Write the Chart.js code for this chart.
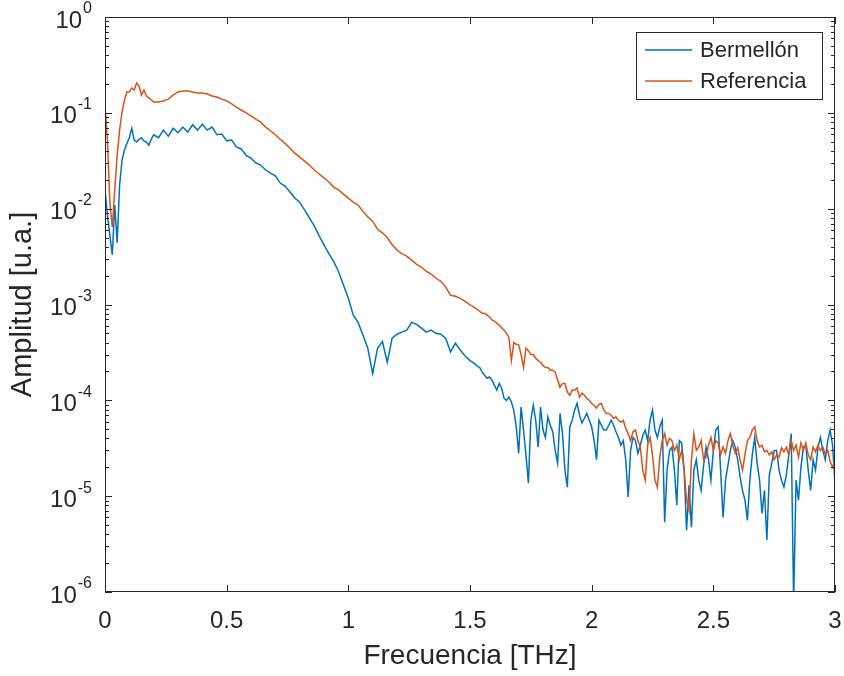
<!DOCTYPE html>
<html>
<head>
<meta charset="utf-8">
<title>Bermellón vs Referencia</title>
<script src="https://cdn.jsdelivr.net/npm/chart.js"></script>
<style>
  html, body { margin: 0; padding: 0; background: #fff; }
  #wrap { width: 844px; height: 676px; }
</style>
</head>
<body>
<div id="wrap"><canvas id="spectrum"></canvas></div>
<script>
// frequency samples [THz]
const freqLow = [0, 0.01, 0.02, 0.03, 0.04, 0.05, 0.06, 0.07, 0.08, 0.09,
  0.10, 0.11, 0.12, 0.13, 0.14, 0.15, 0.16, 0.17, 0.18, 0.19, 0.20];
const freqMid = [0.22, 0.24, 0.26, 0.28, 0.30, 0.32, 0.34, 0.36, 0.38, 0.40,
  0.42, 0.44, 0.46, 0.48, 0.50, 0.52, 0.54, 0.56, 0.58, 0.60,
  0.62, 0.64, 0.66, 0.68, 0.70, 0.72, 0.74, 0.76, 0.78, 0.80,
  0.82, 0.84, 0.86, 0.88, 0.90, 0.92, 0.94, 0.96, 0.98, 1.00,
  1.02, 1.04, 1.06, 1.08, 1.10, 1.12, 1.14, 1.16, 1.18, 1.20,
  1.22, 1.24, 1.26, 1.28, 1.30, 1.32, 1.34, 1.36, 1.38, 1.40,
  1.42, 1.44, 1.46, 1.48, 1.50];
const freqHigh = [1.51, 1.52, 1.53, 1.54, 1.55, 1.56, 1.57, 1.58, 1.59, 1.60,
  1.61, 1.62, 1.63, 1.64, 1.65, 1.66, 1.67, 1.68, 1.69, 1.70,
  1.71, 1.72, 1.73, 1.74, 1.75, 1.76, 1.77, 1.78, 1.79, 1.80,
  1.81, 1.82, 1.83, 1.84, 1.85, 1.86, 1.87, 1.88, 1.89, 1.90,
  1.91, 1.92, 1.93, 1.94, 1.95, 1.96, 1.97, 1.98, 1.99, 2.00,
  2.01, 2.02, 2.03, 2.04, 2.05, 2.06, 2.07, 2.08, 2.09, 2.10,
  2.11, 2.12, 2.13, 2.14, 2.15, 2.16, 2.17, 2.18, 2.19, 2.20,
  2.21, 2.22, 2.23, 2.24, 2.25, 2.26, 2.27, 2.28, 2.29, 2.30,
  2.31, 2.32, 2.33, 2.34, 2.35, 2.36, 2.37, 2.38, 2.39, 2.40,
  2.41, 2.42, 2.43, 2.44, 2.45, 2.46, 2.47, 2.48, 2.49, 2.50,
  2.51, 2.52, 2.53, 2.54, 2.55, 2.56, 2.57, 2.58, 2.59, 2.60,
  2.61, 2.62, 2.63, 2.64, 2.65, 2.66, 2.67, 2.68, 2.69, 2.70,
  2.71, 2.72, 2.73, 2.74, 2.75, 2.76, 2.77, 2.78, 2.79, 2.80,
  2.81, 2.82, 2.83, 2.84, 2.85, 2.86, 2.87, 2.88, 2.89, 2.90,
  2.91, 2.92, 2.93, 2.94, 2.95, 2.96, 2.97, 2.98, 2.99, 3.00];
const freq = [...freqLow, ...freqMid, ...freqHigh];

// amplitude [u.a.]
const bermellon = [
  // 0 - 0.20
  0.0157, 0.0086, 0.0053, 0.0033, 0.0109, 0.0044, 0.0176, 0.032, 0.041, 0.048,
  0.055, 0.069, 0.052, 0.0496, 0.053, 0.055, 0.051, 0.0496, 0.046, 0.053, 0.059,
  // 0.22 - 1.50
  0.055, 0.066, 0.057, 0.069, 0.062, 0.071, 0.063, 0.075, 0.066, 0.076,
  0.066, 0.071, 0.059, 0.060, 0.051, 0.052, 0.044, 0.042, 0.036, 0.0337,
  0.030, 0.0285, 0.0253, 0.0235, 0.022, 0.0185, 0.0172, 0.0149, 0.0129, 0.0117,
  0.0097, 0.0080, 0.0066, 0.0052, 0.0042, 0.0034, 0.0028, 0.0022, 0.0016, 0.00116,
  7.8e-4, 6.5e-4, 4.8e-4, 3.5e-4, 1.9e-4, 3.5e-4, 4.1e-4, 2.5e-4, 4.45e-4, 4.9e-4,
  5.15e-4, 5.4e-4, 6.5e-4, 6.2e-4, 5.7e-4, 5.15e-4, 5.4e-4, 5.0e-4, 4.9e-4, 4.45e-4,
  3.2e-4, 3.95e-4, 3.35e-4, 2.9e-4, 2.6e-4,
  // 1.51 - 3.00
  2.5e-4, 2.4e-4, 2.27e-4, 2.2e-4, 1.97e-4, 1.83e-4, 1.7e-4, 1.75e-4, 1.63e-4, 1.44e-4,
  1.28e-4, 1.5e-4, 1.34e-4, 1.05e-4, 1.0e-4, 1.08e-4, 9.6e-5, 7.9e-5, 5.3e-5, 2.8e-5,
  8.5e-5, 4.9e-5, 2.7e-5, 1.37e-5, 6.2e-5, 8.9e-5, 6.2e-5, 3.25e-5, 8.5e-5, 4.9e-5,
  4.1e-5, 6.7e-5, 5.5e-5, 4.7e-5, 3.0e-5, 2.2e-5, 7.3e-5, 4.5e-5, 1.87e-5, 1.24e-5,
  5.3e-5, 6.2e-5, 7.9e-5, 9.3e-5, 7.0e-5, 5.8e-5, 6.5e-5, 7.3e-5, 6.2e-5, 5.3e-5,
  3.8e-5, 2.4e-5, 6.2e-5, 5.5e-5, 4.9e-5, 4.9e-5, 5.5e-5, 6.2e-5, 5.5e-5, 4.7e-5,
  4.1e-5, 3.4e-5, 3.8e-5, 2.4e-5, 9.8e-6, 3.0e-5, 4.1e-5, 3.8e-5, 2.8e-5, 3.4e-5,
  4.3e-5, 4.9e-5, 3.8e-5, 6.2e-5, 7.9e-5, 4.9e-5, 4.1e-5, 5.3e-5, 6.2e-5, 5.35e-6,
  1.87e-5, 3.0e-5, 3.25e-5, 1.87e-5, 8.1e-6, 3.8e-5, 3.6e-5, 1.87e-5, 4.4e-6, 1.3e-5,
  4.75e-6, 1.87e-5, 2.4e-5, 1.47e-5, 1.15e-5, 2.1e-5, 3.25e-5, 2.4e-5, 1.47e-5, 3.0e-5,
  4.9e-5, 5.3e-5, 1.87e-5, 6.0e-6, 1.47e-5, 2.1e-5, 3.0e-5, 3.8e-5, 3.25e-5, 2.4e-5,
  1.58e-5, 1.15e-5, 9.1e-6, 5.6e-6, 1.47e-5, 2.7e-5, 4.1e-5, 2.2e-5, 1.47e-5, 6.6e-6,
  1.15e-5, 3.5e-6, 1.66e-5, 2.2e-5, 3.0e-5, 3.0e-5, 1.87e-5, 1.47e-5, 1.24e-5, 1.66e-5,
  2.7e-5, 4.5e-5, 8e-7, 1.47e-5, 9.1e-6, 2.0e-5, 3.25e-5, 3.4e-5, 1.87e-5, 1.15e-5,
  2.4e-5, 1.87e-5, 3.25e-5, 4.1e-5, 3.0e-5, 2.4e-5, 3.8e-5, 4.9e-5, 3.4e-5, 1.37e-5
];

const referencia = [
  // 0 - 0.20
  0.12, 0.052, 0.0115, 0.0064, 0.0157, 0.0364, 0.066, 0.102, 0.136, 0.165,
  0.165, 0.181, 0.173, 0.205, 0.19, 0.153, 0.173, 0.150, 0.143, 0.136, 0.130,
  // 0.22 - 1.50
  0.130, 0.133, 0.139, 0.153, 0.165, 0.169, 0.169, 0.165, 0.161, 0.161,
  0.157, 0.150, 0.146, 0.139, 0.133, 0.124, 0.115, 0.107, 0.100, 0.093,
  0.086, 0.080, 0.071, 0.065, 0.059, 0.053, 0.048, 0.043, 0.038, 0.0345,
  0.0314, 0.0285, 0.0253, 0.023, 0.021, 0.019, 0.0168, 0.0157, 0.0142, 0.0129,
  0.0117, 0.0109, 0.0094, 0.0082, 0.0074, 0.0061, 0.0056, 0.0050, 0.0042, 0.0037,
  0.0034, 0.0032, 0.0029, 0.00264, 0.00246, 0.00223, 0.00208, 0.00189, 0.00175, 0.00152,
  0.00125, 0.00122, 0.00116, 0.00108, 0.00099,
  // 1.51 - 3.00
  9.6e-4, 9.2e-4, 8.9e-4, 8.5e-4, 8.1e-4, 8.1e-4, 7.8e-4, 7.4e-4, 6.9e-4, 6.7e-4,
  6.4e-4, 6.1e-4, 5.7e-4, 5.4e-4, 5.0e-4, 4.5e-4, 2.6e-4, 4.0e-4, 3.85e-4, 3.8e-4,
  3.0e-4, 2.2e-4, 3.5e-4, 3.3e-4, 3.0e-4, 3.0e-4, 2.75e-4, 2.6e-4, 2.5e-4, 2.3e-4,
  2.2e-4, 2.2e-4, 2.06e-4, 2.06e-4, 1.97e-4, 1.63e-4, 1.37e-4, 1.5e-4, 1.5e-4, 1.22e-4,
  1.13e-4, 1.28e-4, 1.28e-4, 1.34e-4, 1.08e-4, 1.19e-4, 1.13e-4, 1.05e-4, 1.0e-4, 9.3e-5,
  8.9e-5, 8.3e-5, 9.1e-5, 9.3e-5, 7.9e-5, 7.3e-5, 7.3e-5, 7.0e-5, 6.5e-5, 6.7e-5,
  6.2e-5, 5.9e-5, 6.2e-5, 5.1e-5, 4.5e-5, 3.8e-5, 4.7e-5, 4.9e-5, 3.8e-5, 3.25e-5,
  1.87e-5, 1.47e-5, 3.4e-5, 4.1e-5, 2.7e-5, 1.47e-5, 1.24e-5, 2.55e-5, 3.8e-5, 4.5e-5,
  3.4e-5, 4.0e-5, 3.8e-5, 3.0e-5, 3.4e-5, 2.4e-5, 3.0e-5, 1.87e-5, 9.1e-6, 7.1e-6,
  2.4e-5, 4.5e-5, 3.0e-5, 3.25e-5, 3.8e-5, 2.4e-5, 2.55e-5, 3.4e-5, 4.1e-5, 3.0e-5,
  3.8e-5, 3.6e-5, 2.7e-5, 3.25e-5, 2.8e-5, 3.8e-5, 4.5e-5, 3.4e-5, 2.8e-5, 3.2e-5,
  2.4e-5, 1.87e-5, 2.7e-5, 3.8e-5, 4.1e-5, 4.9e-5, 5.3e-5, 3.8e-5, 3.25e-5, 3.4e-5,
  2.9e-5, 3.0e-5, 2.7e-5, 2.9e-5, 2.4e-5, 2.7e-5, 2.55e-5, 3.2e-5, 2.9e-5, 3.25e-5,
  2.7e-5, 3.8e-5, 3.0e-5, 3.4e-5, 2.55e-5, 3.6e-5, 3.0e-5, 3.6e-5, 2.7e-5, 2.4e-5,
  3.25e-5, 2.9e-5, 3.4e-5, 3.0e-5, 3.25e-5, 2.7e-5, 3.0e-5, 2.3e-5, 2.0e-5, 2.4e-5
];

const seriesNames = ['Bermellón', 'Referencia'];
const seriesColors = ['#0072BD', '#D95319'];
const xTickValues = [0, 0.5, 1, 1.5, 2, 2.5, 3];
const xTickLabels = ['0', '0.5', '1', '1.5', '2', '2.5', '3'];
const yTickValues = [1e-6, 1e-5, 1e-4, 1e-3, 1e-2, 1e-1, 1];
const yTickExponents = ['-6', '-5', '-4', '-3', '-2', '-1', '0'];

const FONT = "'Liberation Sans', Arial, Helvetica, sans-serif";
const AXIS_COLOR = '#262626';

// MATLAB-like box, inward ticks, 10^n labels and legend
const matlabFrame = {
  id: 'matlabFrame',
  afterDatasetsDraw(chart) {
    const { ctx, chartArea: a, scales: { x, y } } = chart;
    ctx.save();
    ctx.strokeStyle = AXIS_COLOR;
    ctx.lineWidth = 1;
    ctx.beginPath();
    xTickValues.forEach(v => {
      const px = Math.round(x.getPixelForValue(v)) + 0.5;
      ctx.moveTo(px, a.bottom); ctx.lineTo(px, a.bottom - 7);
      ctx.moveTo(px, a.top); ctx.lineTo(px, a.top + 7);
    });
    for (let n = -6; n <= 0; n++) {
      for (let k = 1; k <= 9; k++) {
        const v = k * Math.pow(10, n);
        if (v > 1) break;
        const len = k === 1 ? 7 : 4;
        const py = Math.round(y.getPixelForValue(v)) + 0.5;
        ctx.moveTo(a.left, py); ctx.lineTo(a.left + len, py);
        ctx.moveTo(a.right, py); ctx.lineTo(a.right - len, py);
      }
    }
    ctx.stroke();
    ctx.strokeRect(Math.round(a.left) + 0.5, Math.round(a.top) + 0.5,
      Math.round(a.right - a.left) - 1, Math.round(a.bottom - a.top) - 1);

    // y tick labels as 10 with a raised exponent
    ctx.fillStyle = AXIS_COLOR;
    ctx.textBaseline = 'middle';
    yTickValues.forEach((v, i) => {
      const py = y.getPixelForValue(v);
      ctx.font = '16px ' + FONT;
      const ew = ctx.measureText(yTickExponents[i]).width;
      const ex = 92 - ew;
      ctx.textAlign = 'left';
      ctx.fillText(yTickExponents[i], ex, py - 8);
      ctx.font = '24px ' + FONT;
      ctx.textAlign = 'right';
      ctx.fillText('10', ex - 1, py + 4);
    });

    // legend
    const bx = 636, by = 32, bw = 186, bh = 67;
    ctx.fillStyle = '#fff';
    ctx.fillRect(bx, by, bw, bh);
    ctx.strokeStyle = AXIS_COLOR;
    ctx.lineWidth = 1;
    ctx.strokeRect(bx + 0.5, by + 0.5, bw, bh);
    ctx.font = '22px ' + FONT;
    ctx.textBaseline = 'middle';
    ctx.textAlign = 'left';
    seriesNames.forEach((name, i) => {
      const ly = 50 + i * 31;
      ctx.strokeStyle = seriesColors[i];
      ctx.lineWidth = 1.5;
      ctx.beginPath();
      ctx.moveTo(645, ly); ctx.lineTo(692, ly);
      ctx.stroke();
      ctx.fillStyle = AXIS_COLOR;
      ctx.fillText(name, 700, ly + 1);
    });
    ctx.restore();
  }
};

const toPoints = vals => freq.map((f, i) => ({ x: f, y: vals[i] }));

new Chart(document.getElementById('spectrum'), {
  type: 'line',
  data: {
    datasets: [
      { label: seriesNames[0], data: toPoints(bermellon), borderColor: seriesColors[0],
        borderWidth: 1.5, pointRadius: 0, tension: 0, fill: false, order: 1 },
      { label: seriesNames[1], data: toPoints(referencia), borderColor: seriesColors[1],
        borderWidth: 1.5, pointRadius: 0, tension: 0, fill: false, order: 0 }
    ]
  },
  options: {
    responsive: true,
    maintainAspectRatio: false,
    animation: false,
    devicePixelRatio: 1,
    layout: { padding: { top: 17, right: 9, left: 0, bottom: 0 } },
    plugins: { legend: { display: false }, tooltip: { enabled: false } },
    scales: {
      x: {
        type: 'linear', min: 0, max: 3,
        grid: { display: false, drawTicks: false },
        border: { display: false },
        afterBuildTicks: s => { s.ticks = xTickValues.map(v => ({ value: v })); },
        ticks: { autoSkip: false, color: AXIS_COLOR, padding: 15,
                 font: { family: FONT, size: 24 },
                 callback: v => xTickLabels[xTickValues.indexOf(v)] },
        title: { display: true, text: 'Frecuencia [THz]', color: AXIS_COLOR,
                 font: { family: FONT, size: 28 }, padding: { top: 0, bottom: 3 } },
        afterFit: s => { s.height = 84; s.paddingLeft = 0; s.paddingRight = 0; }
      },
      y: {
        type: 'logarithmic', min: 1e-6, max: 1,
        grid: { display: false, drawTicks: false },
        border: { display: false },
        afterBuildTicks: s => { s.ticks = yTickValues.map(v => ({ value: v, major: true })); },
        ticks: { display: false },
        title: { display: true, text: 'Amplitud [u.a.]', color: AXIS_COLOR,
                 font: { family: FONT, size: 29 }, padding: { top: 6, bottom: 0 } },
        afterFit: s => { s.width = 105; s.paddingTop = 0; s.paddingBottom = 0; }
      }
    }
  },
  plugins: [matlabFrame]
});
</script>
</body>
</html>
